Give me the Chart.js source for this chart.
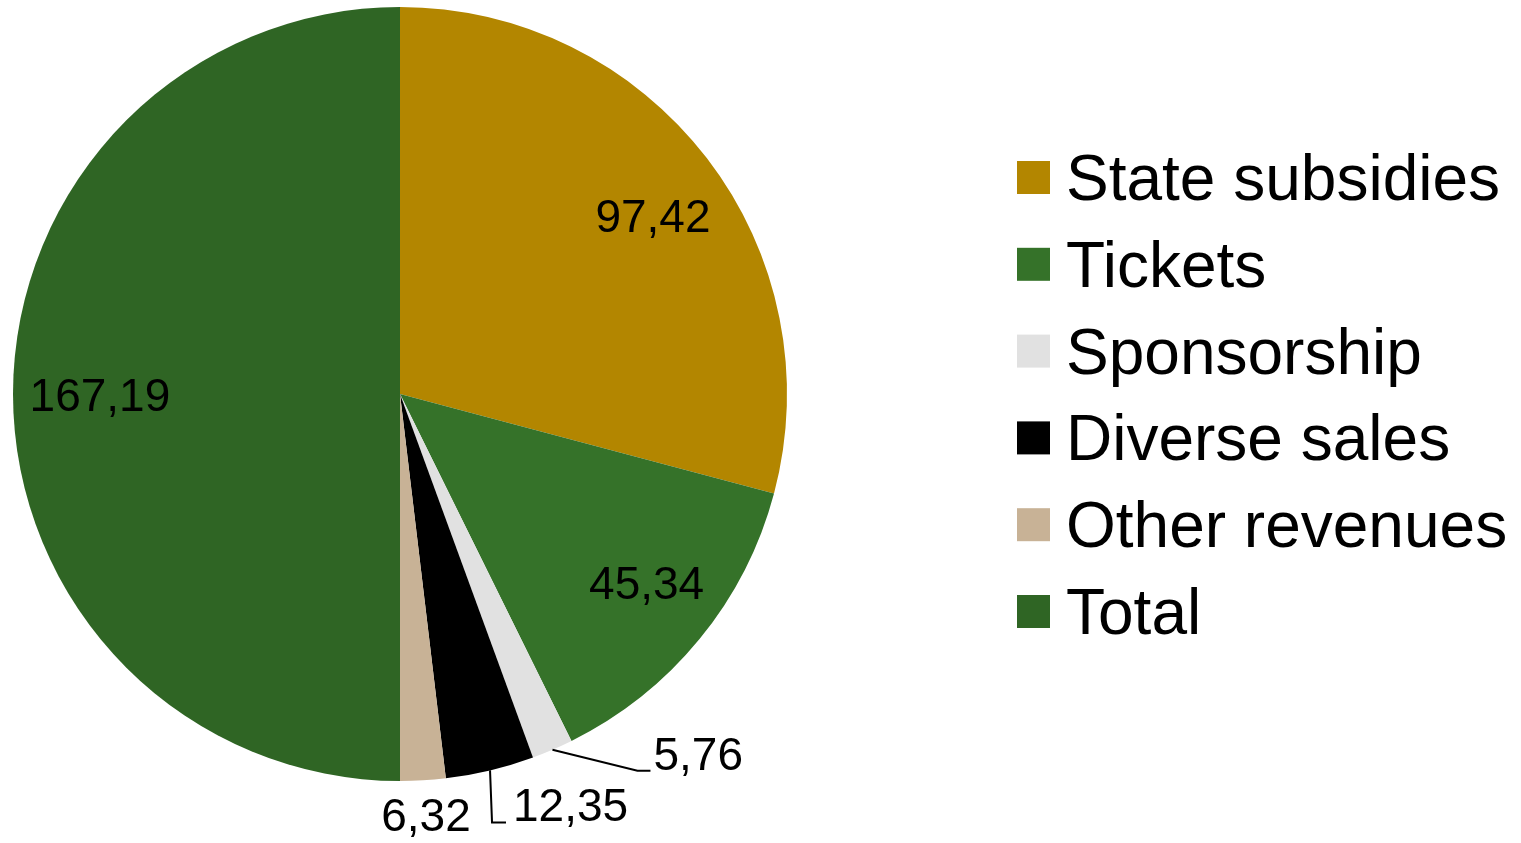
<!DOCTYPE html>
<html>
<head>
<meta charset="utf-8">
<script src="https://cdn.jsdelivr.net/npm/chart.js@4"></script>
<style>
    html, body { margin: 0; padding: 0; background: #ffffff; }
    #wrap { width: 1521px; height: 843px; position: relative; }
</style>
</head>
<body>
<div id="wrap"><canvas id="revenueChart"></canvas></div>
<script>
// Revenue breakdown (values as printed on the chart)
const categories = ["State subsidies", "Tickets", "Sponsorship", "Diverse sales", "Other revenues", "Total"];
const revenues = [97.42, 45.34, 5.76, 12.35, 6.32, 167.19];
const sliceColors = ["#b38600", "#357229", "#e1e1e1", "#000000", "#c8b296", "#2f6524"];

const FONT = "'Liberation Sans', Arial, sans-serif";

function formatValue(v) {
    return v.toFixed(2).replace(".", ",");
}

// Value labels: inside for the big slices, outside (some with leader lines) for small ones
const pieLabels = {
    id: "pieLabels",
    afterDatasetsDraw(chart) {
        const ctx = chart.ctx;
        const meta = chart.getDatasetMeta(0);
        // inside labels: nudge from 0.8 radius point (dx, baseline dy)
        const inside = {
            0: [7.5, 27],
            1: [7, 8.5],
            5: [9.5, 16.5]
        };
        // outside labels: offsets relative to the point on the rim
        const outside = {
            2: { line: [[85, 21], [98, 21]], text: [101, 20.5], align: "left" },
            3: { line: [[2, 52], [16, 52]], text: [23, 51], align: "left" },
            4: { line: null, text: [3, 50.5], align: "center" }
        };
        ctx.save();
        ctx.font = "46px " + FONT;
        ctx.fillStyle = "#000";
        ctx.strokeStyle = "#000";
        ctx.lineWidth = 2;
        ctx.textBaseline = "alphabetic";
        meta.data.forEach((arc, i) => {
            const { x, y, startAngle, endAngle, outerRadius } = arc.getProps(["x", "y", "startAngle", "endAngle", "outerRadius"], true);
            const mid = (startAngle + endAngle) / 2;
            const label = formatValue(revenues[i]);
            if (outside[i]) {
                const o = outside[i];
                const ex = x + Math.cos(mid) * outerRadius;
                const ey = y + Math.sin(mid) * outerRadius;
                if (o.line) {
                    ctx.beginPath();
                    ctx.moveTo(ex, ey);
                    o.line.forEach(p => ctx.lineTo(ex + p[0], ey + p[1]));
                    ctx.stroke();
                }
                ctx.textAlign = o.align;
                ctx.fillText(label, ex + o.text[0], ey + o.text[1]);
            } else {
                const r = outerRadius * 0.8;
                const nudge = inside[i] || [0, 16];
                ctx.textAlign = "center";
                ctx.fillText(label, x + Math.cos(mid) * r + nudge[0], y + Math.sin(mid) * r + nudge[1]);
            }
        });
        ctx.restore();
    }
};

// Legend drawn on the right side
const sideLegend = {
    id: "sideLegend",
    afterDraw(chart) {
        const ctx = chart.ctx;
        const boxX = 1017, box = 33, firstCenter = 177.5, step = 86.8, textX = 1066;
        ctx.save();
        ctx.font = "64px " + FONT;
        ctx.textAlign = "left";
        ctx.textBaseline = "alphabetic";
        categories.forEach((name, i) => {
            const cy = firstCenter + i * step;
            ctx.fillStyle = sliceColors[i];
            ctx.fillRect(boxX, cy - box / 2, box, box);
            ctx.fillStyle = "#000";
            ctx.fillText(name, textX, cy + 22.5);
        });
        ctx.restore();
    }
};

new Chart(document.getElementById("revenueChart").getContext("2d"), {
    type: "pie",
    data: {
        labels: categories,
        datasets: [{
            data: revenues,
            backgroundColor: sliceColors,
            borderWidth: 0
        }]
    },
    options: {
        responsive: true,
        maintainAspectRatio: false,
        animation: false,
        layout: {
            padding: { left: 12, right: 733, top: 7, bottom: 62 }
        },
        plugins: {
            legend: { display: false },
            tooltip: { enabled: false }
        }
    },
    plugins: [pieLabels, sideLegend]
});
</script>
</body>
</html>
